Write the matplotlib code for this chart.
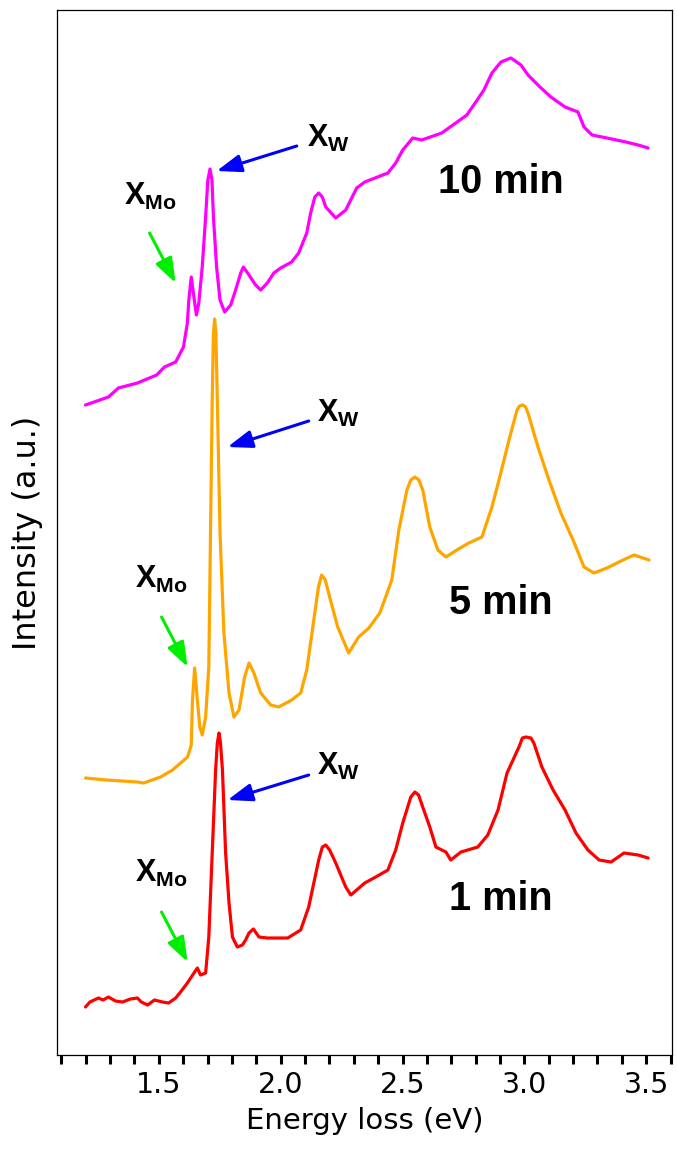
import numpy as np
import matplotlib
matplotlib.use("Agg")
import matplotlib.pyplot as plt
from matplotlib.ticker import MultipleLocator

# 10 min spectrum (magenta)
e_10 = [1.199, 1.293, 1.334, 1.412, 1.491, 1.523, 1.569, 1.601, 1.617, 1.623,
        1.633, 1.644, 1.654, 1.664, 1.678, 1.692, 1.701, 1.710, 1.718, 1.724,
        1.737, 1.751, 1.770, 1.795, 1.815, 1.836, 1.847, 1.870, 1.897, 1.918,
        1.945, 1.972, 2.000, 2.045, 2.074, 2.107, 2.123, 2.140, 2.156, 2.171,
        2.185, 2.226, 2.267, 2.312, 2.345, 2.440, 2.472, 2.501, 2.542, 2.579,
        2.661, 2.707, 2.764, 2.801, 2.834, 2.867, 2.904, 2.945, 2.986, 3.015,
        3.064, 3.109, 3.167, 3.220, 3.245, 3.278, 3.339, 3.417, 3.467, 3.508]
i_10 = [650, 658, 667, 672, 680, 688, 693, 708, 732, 755,
        778, 758, 740, 752, 788, 838, 875, 886, 875, 838,
        788, 755, 743, 750, 765, 782, 788, 780, 770, 765,
        772, 782, 787, 793, 802, 822, 842, 858, 862, 858,
        848, 837, 845, 867, 873, 882, 892, 905, 917, 915,
        922, 930, 940, 953, 965, 982, 993, 997, 990, 980,
        968, 958, 948, 943, 928, 920, 917, 913, 910, 907]

# 5 min spectrum (orange)
e_5 = [1.199, 1.285, 1.412, 1.437, 1.507, 1.556, 1.618, 1.633, 1.638, 1.647,
       1.658, 1.668, 1.678, 1.692, 1.705, 1.712, 1.719, 1.724, 1.729, 1.734,
       1.740, 1.751, 1.767, 1.788, 1.808, 1.829, 1.852, 1.870, 1.890, 1.918,
       1.959, 1.992, 2.045, 2.082, 2.107, 2.140, 2.155, 2.168, 2.183, 2.201,
       2.234, 2.279, 2.320, 2.362, 2.407, 2.456, 2.485, 2.518, 2.534, 2.551,
       2.567, 2.583, 2.612, 2.645, 2.678, 2.723, 2.772, 2.826, 2.867, 2.896,
       2.937, 2.970, 2.980, 2.994, 3.005, 3.015, 3.056, 3.101, 3.150, 3.200,
       3.245, 3.286, 3.339, 3.405, 3.450, 3.512]
i_5 = [277, 275, 273, 272, 278, 285, 298, 310, 355, 387,
       355, 328, 320, 338, 388, 522, 655, 722, 736, 722,
       655, 522, 422, 362, 338, 345, 378, 392, 382, 362,
       350, 348, 355, 362, 385, 442, 468, 480, 475, 458,
       428, 402, 418, 427, 442, 475, 525, 565, 575, 578,
       575, 565, 528, 505, 498, 505, 512, 518, 548, 575,
       615, 645, 649, 650, 648, 642, 608, 575, 542, 515,
       488, 482, 487, 495, 500, 495]

# 1 min spectrum (red)
e_1 = [1.199, 1.217, 1.252, 1.271, 1.293, 1.322, 1.351, 1.383, 1.412, 1.428,
       1.454, 1.482, 1.515, 1.540, 1.569, 1.589, 1.617, 1.644, 1.658, 1.671,
       1.692, 1.705, 1.719, 1.733, 1.740, 1.747, 1.753, 1.761, 1.774, 1.788,
       1.802, 1.822, 1.843, 1.856, 1.870, 1.888, 1.911, 1.945, 1.986, 2.029,
       2.082, 2.115, 2.156, 2.171, 2.185, 2.201, 2.226, 2.267, 2.288, 2.345,
       2.390, 2.440, 2.472, 2.501, 2.534, 2.551, 2.566, 2.583, 2.612, 2.637,
       2.678, 2.698, 2.740, 2.809, 2.850, 2.892, 2.929, 2.978, 2.992, 3.007,
       3.027, 3.039, 3.072, 3.118, 3.167, 3.212, 3.261, 3.307, 3.356, 3.409,
       3.467, 3.508]
i_1 = [48, 53, 57, 55, 58, 54, 53, 56, 57, 53,
       50, 55, 53, 52, 57, 63, 72, 82, 87, 80,
       82, 118, 202, 285, 312, 322, 312, 285, 202, 152,
       118, 108, 110, 115, 122, 126, 118, 117, 117, 117,
       125, 148, 195, 208, 210, 205, 192, 168, 160, 172,
       178, 185, 205, 232, 258, 263, 260, 248, 228, 208,
       203, 195, 203, 208, 220, 245, 282, 308, 317, 318,
       317, 312, 288, 265, 245, 222, 205, 195, 193, 202,
       200, 197]

labels = ["10 min", "5 min", "1 min"]

plt.rcParams["mathtext.fontset"] = "custom"
plt.rcParams["mathtext.rm"] = "Liberation Sans:bold"
plt.rcParams["mathtext.it"] = "Liberation Sans:bold"
plt.rcParams["mathtext.bf"] = "Liberation Sans:bold"

fig = plt.figure(figsize=(6.77, 11.49), dpi=100)
ax = fig.add_axes([0.0842, 0.0818, 0.9084, 0.9095])

line_kw = dict(lw=2.3, solid_joinstyle="round", solid_capstyle="round")
ax.plot(e_10, i_10, color="#ff00ff", **line_kw)
ax.plot(e_5, i_5, color="#ffa500", **line_kw)
ax.plot(e_1, i_1, color="#ff0000", **line_kw)

ax.set_xlim(1.082, 3.606)
ax.set_ylim(0, 1045)

# annotations: (X_W text, blue arrow tail, tip), (X_Mo text, green tail, tip), label pos
annots = [
    ((2.107, 908), (2.066, 909), (1.737, 884), (1.355, 850), (1.462, 822), (1.569, 772), (2.904, 873)),
    ((2.148, 633), (2.115, 634), (1.782, 608), (1.404, 467), (1.511, 438), (1.618, 388), (2.904, 452)),
    ((2.148, 280), (2.115, 280), (1.782, 255), (1.404, 173), (1.511, 143), (1.618, 93), (2.904, 156)),
]
arrow_style = "-|>,head_length=0.75,head_width=0.27"
for lab, (xw, bt, bh, xm, gt, gh, tp) in zip(labels, annots):
    ax.text(xw[0], xw[1], r"$X_W$", fontsize=22, ha="left", va="baseline")
    ax.annotate("", xy=bh, xytext=bt,
                arrowprops=dict(arrowstyle=arrow_style, mutation_scale=20,
                                lw=2.2, color="#0000ff", shrinkA=0, shrinkB=0))
    ax.text(xm[0], xm[1], r"$X_{Mo}$", fontsize=22, ha="left", va="baseline")
    ax.annotate("", xy=gh, xytext=gt,
                arrowprops=dict(arrowstyle=arrow_style, mutation_scale=20,
                                lw=2.2, color="#00ee00", shrinkA=0, shrinkB=0))
    ax.text(tp[0], tp[1], lab, fontsize=28.5, fontweight="bold",
            family="Liberation Sans", ha="center", va="center")

ax.xaxis.set_major_locator(MultipleLocator(0.5))
ax.xaxis.set_minor_locator(MultipleLocator(0.1))
ax.tick_params(axis="x", which="both", direction="out", length=6.5, width=2.2,
               labelsize=20.5, pad=5)
ax.set_yticks([])
for sp in ax.spines.values():
    sp.set_linewidth(0.9)

ax.set_xlabel("Energy loss (eV)", fontsize=21, labelpad=6)
ax.set_ylabel("Intensity (a.u.)", fontsize=23, labelpad=10)

fig.savefig("out.png", dpi=100)
